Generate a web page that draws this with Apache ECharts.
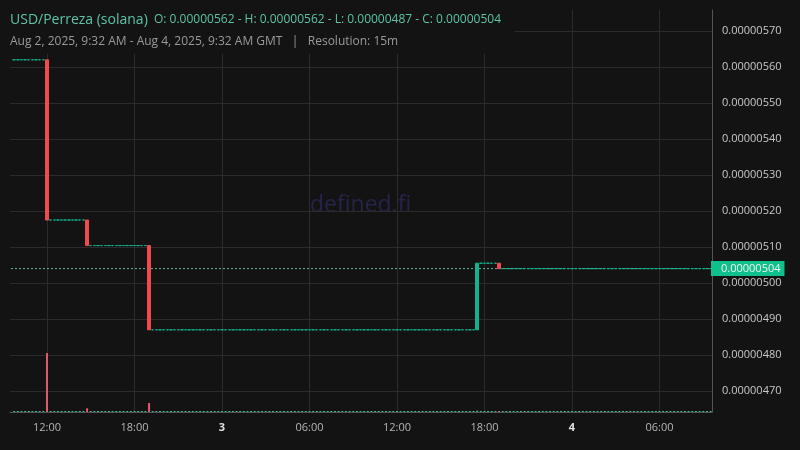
<!DOCTYPE html>
<html>
<head>
<meta charset="utf-8">
<style>
  html, body { margin: 0; padding: 0; background: #131313; }
  #chart { width: 800px; height: 450px; }
</style>
<script src="https://cdn.jsdelivr.net/npm/echarts@6/dist/echarts.min.js"></script>
</head>
<body>
<div id="chart"></div>
<script>
// ---- data ----
const pairName = 'USD/Perreza (solana)';
const ohlcSummary = { O: 0.00000562, H: 0.00000562, L: 0.00000487, C: 0.00000504 };
const rangeText = 'Aug 2, 2025, 9:32 AM - Aug 4, 2025, 9:32 AM GMT';
const resolutionText = 'Resolution: 15m';
const viewStart = Date.UTC(2025, 7, 2, 9, 32);
const viewEnd = Date.UTC(2025, 7, 4, 9, 32);
const firstBar = Date.UTC(2025, 7, 2, 9, 45);
const barCount = 192;              // 15-minute bars
const barMinutes = 15;
const startPrice = 0.00000562;     // price before the first trade

// bars in which a trade happened (all others are flat, no volume)
const tradeTimes = [
  Date.UTC(2025, 7, 2, 12, 0),
  Date.UTC(2025, 7, 2, 14, 45),
  Date.UTC(2025, 7, 2, 19, 0),
  Date.UTC(2025, 7, 3, 17, 30),
  Date.UTC(2025, 7, 3, 19, 0)
];
const tradeOpen  = [0.00000562, 0.000005175, 0.000005104, 0.00000487, 0.000005055];
const tradeClose = [0.000005175, 0.000005104, 0.00000487, 0.000005055, 0.00000504];
const tradeVolume = [1180, 74, 180, 26, 6];

const lastPrice = 0.00000504;
const yMin = 0.0000046417, yMax = 0.0000057583;
const volumeMax = 8040;

// ---- colours ----
const upColor = '#14b38e';
const downColor = '#f04a4f';
const volUp = '#3fb99a';
const volDown = '#e35a6e';

// ---- build series ----
const candles = [];
const volumes = [];
let last = startPrice;
for (let i = 0; i < barCount; i++) {
  const t = firstBar + i * barMinutes * 60000;
  const k = tradeTimes.indexOf(t);
  if (k >= 0) {
    const o = tradeOpen[k], c = tradeClose[k];
    candles.push([t, o, c, Math.min(o, c), Math.max(o, c)]);
    volumes.push({ value: [t, tradeVolume[k]], itemStyle: { color: c < o ? volDown : volUp } });
    last = c;
  } else {
    candles.push([t, last, last, last, last]);
    volumes.push({ value: [t, 0], itemStyle: { color: volUp } });
  }
}

const pad = n => (n < 10 ? '0' : '') + n;
const fmt8 = v => v.toFixed(8);

const chart = echarts.init(document.getElementById('chart'), null, { renderer: 'canvas' });
chart.setOption({
  backgroundColor: '#131313',
  useUTC: true,
  animation: false,
  textStyle: { fontFamily: 'Open Sans, Noto Sans, sans-serif' },
  title: {
    left: 0, top: 0,
    padding: [9, 14, 3, 10],
    backgroundColor: '#131313',
    itemGap: 2,
    text: '{a|' + pairName + '}  {b|O: ' + fmt8(ohlcSummary.O) + ' - H: ' + fmt8(ohlcSummary.H) +
          ' - L: ' + fmt8(ohlcSummary.L) + ' - C: ' + fmt8(ohlcSummary.C) + '}',
    textStyle: {
      lineHeight: 22, fontWeight: 'normal', fontSize: 12,
      rich: {
        a: { fontSize: 14, color: '#5cc4a5', fontFamily: 'Open Sans', fontWeight: 'normal', lineHeight: 22 },
        b: { fontSize: 12, color: '#5cc4a5', fontFamily: 'Open Sans', fontWeight: 'normal', lineHeight: 22 }
      }
    },
    subtext: rangeText + '   |   ' + resolutionText,
    subtextStyle: { fontSize: 12, color: '#9a9a9a', fontFamily: 'Open Sans', lineHeight: 18 }
  },
  graphic: [{
    type: 'text', left: 310, top: 194, z: -1, silent: true,
    style: { text: 'defined.fi', fontSize: 23, fill: '#26244a', fontFamily: 'Open Sans' }
  }],
  grid: { left: 10, right: 88, top: 10, bottom: 38 },
  xAxis: {
    type: 'time',
    min: viewStart, max: viewEnd,
    splitNumber: 7,
    minInterval: 7 * 3600000, maxInterval: 7 * 3600000,
    axisLine: { show: true, lineStyle: { color: '#555' } },
    axisTick: { show: false },
    splitLine: { show: true, showMinLine: false, showMaxLine: false, lineStyle: { color: '#2b2b2b' } },
    axisLabel: {
      color: '#b5b5b5', fontSize: 11, margin: 10,
      showMinLabel: false, showMaxLabel: false,
      formatter: function (v) {
        const d = new Date(v);
        if (d.getUTCHours() === 0 && d.getUTCMinutes() === 0) return '{d|' + d.getUTCDate() + '}';
        return pad(d.getUTCHours()) + ':' + pad(d.getUTCMinutes());
      },
      rich: { d: { fontWeight: 'bold', color: '#e0e0e0', fontSize: 11 } }
    }
  },
  yAxis: [{
    type: 'value', position: 'right',
    min: yMin, max: yMax, splitNumber: 10, scale: true,
    axisLine: { show: true, lineStyle: { color: '#555' } },
    axisTick: { show: false },
    splitLine: { show: true, showMinLine: false, showMaxLine: false, lineStyle: { color: '#2b2b2b' } },
    axisLabel: { color: '#c8c8c8', fontSize: 11, margin: 10, showMinLabel: false, showMaxLabel: false, formatter: fmt8 }
  }, {
    type: 'value', min: 0, max: volumeMax, show: false, splitLine: { show: false }
  }],
  series: [{
    type: 'bar', name: 'Volume',
    xAxisIndex: 0, yAxisIndex: 1,
    barWidth: 2, barMinHeight: 1,
    data: volumes, z: 1
  }, {
    type: 'line', name: 'Last price',
    xAxisIndex: 0, yAxisIndex: 0,
    symbol: 'none', silent: true, clip: false,
    lineStyle: { type: [2, 2], color: '#5fb9a6', width: 1 },
    data: [[viewStart, lastPrice], [viewEnd, lastPrice]],
    endLabel: {
      show: true, distance: 0,
      formatter: fmt8(lastPrice),
      backgroundColor: '#0fbf8c', color: '#f4f4f4', fontSize: 11,
      padding: [2, 4, 2, 10], fontFamily: 'Open Sans'
    },
    z: 2
  }, {
    type: 'candlestick', name: 'Price',
    xAxisIndex: 0, yAxisIndex: 0,
    encode: { x: 0, y: [1, 2, 3, 4] },
    barWidth: '80%',
    itemStyle: { color: upColor, color0: downColor, borderColor: upColor, borderColor0: downColor, borderWidth: 1 },
    data: candles, z: 3
  }]
});
</script>
</body>
</html>
